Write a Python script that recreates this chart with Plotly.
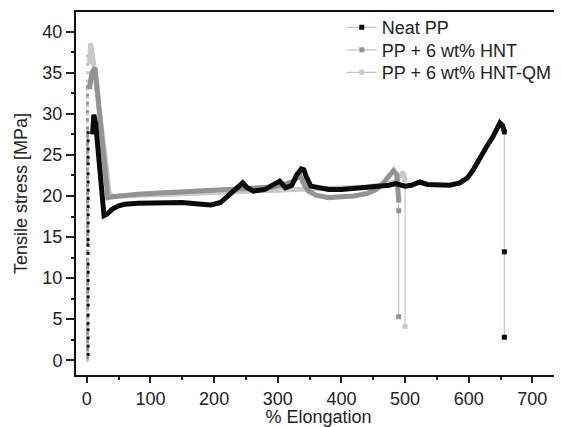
import plotly.graph_objects as go

# ---------------- data ----------------
series_names = ["Neat PP", "PP + 6 wt% HNT", "PP + 6 wt% HNT-QM"]

# initial elastic rise (sampled points)
neat_rise_x = [2, 2, 2, 2, 2, 2, 2, 2, 2, 2, 2, 2, 2, 2, 2, 2, 2, 2, 2, 2, 2, 2, 2, 2, 2, 2, 2, 2]
neat_rise_y = [0.7, 1.7, 2.7, 3.7, 4.5, 5.5, 6.7, 7.7, 8.7, 9.7, 10.7, 11.7, 13.0, 14.0, 14.7, 15.7, 16.7, 17.7,
               18.7, 19.7, 20.7, 21.7, 22.7, 23.9, 24.7, 25.7, 26.7, 27.7]
hnt_rise_x = [1, 1, 1, 1, 1, 1, 1, 1, 1, 1, 1, 1, 1, 1, 1, 1, 1, 1, 1, 1, 1, 1, 1, 1, 1, 1, 1, 1, 1, 1, 1, 1, 1, 1]
hnt_rise_y = [0.3, 1.3, 2.3, 3.3, 4.3, 5.3, 6.3, 7.3, 8.3, 9.3, 10.3, 11.3, 12.3, 13.3, 14.3, 15.3, 16.3, 17.3,
              18.3, 19.3, 20.3, 21.3, 22.3, 23.3, 24.3, 25.3, 26.3, 27.3, 28.3, 29.3, 30.3, 31.3, 32.3, 33.3]
qm_rise_x = [1, 1, 1, 1, 1, 1, 1, 1, 1, 1, 1, 1, 1, 1, 1, 1, 1, 1, 1, 1, 1, 1, 1, 1, 1, 1, 1, 1, 1, 1, 1, 1, 1, 1, 1, 1, 1, 1]
qm_rise_y = [0.0, 1.0, 2.0, 3.0, 4.0, 5.0, 6.0, 7.0, 8.0, 9.0, 10.0, 11.0, 12.0, 13.0, 14.0, 15.0, 16.0, 17.0,
             18.0, 19.0, 20.0, 21.0, 22.0, 23.0, 24.0, 25.0, 26.0, 27.0, 28.0, 29.0, 30.0, 31.0, 32.0, 33.0,
             34.0, 35.0, 36.0, 37.0]

# main plastic curves
neat_x = [9, 11, 14, 17, 20, 23, 27, 32, 40, 50, 60, 80, 100, 120, 150, 180, 195, 210, 223, 235, 245, 252,
          262, 280, 295, 303, 312, 322, 330, 337, 341, 345, 352, 365, 380, 400, 420, 440, 460, 475, 485, 492,
          500, 510, 523, 535, 550, 570, 586, 598, 608, 618, 628, 638, 645, 649, 653, 656]
neat_y = [27.5, 29.9, 28.8, 26.5, 23.5, 20.5, 17.6, 17.8, 18.4, 18.8, 19.0, 19.1, 19.1, 19.2, 19.2, 19.0, 18.9,
          19.2, 20.1, 20.8, 21.6, 21.0, 20.6, 20.8, 21.4, 21.8, 21.0, 21.3, 22.6, 23.3, 23.2, 22.3, 21.2, 21.0,
          20.8, 20.8, 20.9, 21.0, 21.2, 21.3, 21.5, 21.4, 21.2, 21.3, 21.7, 21.4, 21.3, 21.3, 21.6, 22.2, 23.3,
          24.8, 26.0, 27.2, 28.2, 28.9, 28.6, 27.8]

hnt_x = [4, 8, 13, 17, 21, 25, 29, 33, 40, 50, 60, 80, 100, 130, 160, 200, 230, 250, 270, 290, 310, 322,
         330, 335, 340, 348, 360, 380, 400, 420, 440, 455, 465, 475, 482, 487, 490]
hnt_y = [33.0, 35.0, 35.6, 32.5, 29.0, 25.5, 22.0, 19.8, 19.9, 20.0, 20.1, 20.2, 20.3, 20.4, 20.5, 20.6, 20.7,
         20.9, 21.0, 21.1, 21.4, 21.7, 22.2, 22.5, 21.6, 20.6, 20.1, 19.8, 19.9, 20.0, 20.3, 20.8, 21.5, 22.4,
         23.1, 22.6, 19.5]

qm_x = [4, 6, 10, 15, 20, 25, 30, 35, 40, 50, 60, 80, 100, 130, 160, 200, 230, 260, 290, 320, 350, 380, 410,
        440, 460, 475, 485, 492, 497, 500]
qm_y = [36.0, 38.6, 36.5, 33.0, 30.0, 27.0, 24.0, 20.4, 19.9, 20.0, 20.0, 20.1, 20.1, 20.2, 20.3, 20.4, 20.5,
        20.6, 20.6, 20.7, 20.8, 20.9, 21.0, 21.1, 21.3, 21.5, 21.8, 22.4, 22.9, 22.0]

# final fracture drops
neat_drop_x = [656, 656, 656]
neat_drop_y = [27.8, 13.2, 2.8]
hnt_drop_x = [490, 490, 490]
hnt_drop_y = [19.5, 18.2, 5.3]
qm_drop_x = [500, 500]
qm_drop_y = [22.0, 4.1]

x_ticks = [0, 100, 200, 300, 400, 500, 600, 700]
y_ticks = [0, 5, 10, 15, 20, 25, 30, 35, 40]

# ---------------- styles ----------------
col_neat = "#0a0a0a"
col_hnt = "#939393"
col_qm = "#c9c9c9"
col_drop_line = "#c4c4c4"

fig = go.Figure()

def add_series(name, col, rx, ry, mx, my, dx, dy, legend_id):
    fig.add_trace(go.Scatter(x=rx, y=ry, mode="markers", showlegend=False,
                             marker=dict(symbol="square", size=3, color=col), hoverinfo="skip"))
    fig.add_trace(go.Scatter(x=mx, y=my, mode="lines", showlegend=False,
                             line=dict(color=col, width=5)))
    fig.add_trace(go.Scatter(x=dx, y=dy, mode="lines+markers", name=name, legend=legend_id,
                             line=dict(color=col_drop_line, width=1.2),
                             marker=dict(symbol="square", size=5, color=col)))

add_series(series_names[2], col_qm, qm_rise_x, qm_rise_y, qm_x, qm_y, qm_drop_x, qm_drop_y, "legend3")
add_series(series_names[1], col_hnt, hnt_rise_x, hnt_rise_y, hnt_x, hnt_y, hnt_drop_x, hnt_drop_y, "legend2")
add_series(series_names[0], col_neat, neat_rise_x, neat_rise_y, neat_x, neat_y, neat_drop_x, neat_drop_y, "legend")

font_family = "Liberation Sans, Arial, sans-serif"

def leg(y):
    return dict(x=0.548, y=y, xanchor="left", yanchor="middle",
                font=dict(size=18, color="#222"), bgcolor="rgba(0,0,0,0)", itemwidth=30)

# page body has an 8px margin -> figure shifted; compensate in size/margins
fig.update_layout(
    width=554, height=419,
    margin=dict(l=68, r=1, t=4, b=52, autoexpand=False),
    paper_bgcolor="white", plot_bgcolor="white",
    font=dict(family=font_family, size=18, color="#222"),
    legend=leg(0.957), legend2=leg(0.895), legend3=leg(0.833),
    showlegend=True,
)

fig.update_xaxes(
    range=[-17, 745], tickvals=x_ticks, ticks="outside", ticklen=6, tickwidth=1.5,
    tickcolor="#222", showline=True, linecolor="#111", linewidth=2, mirror=True,
    showgrid=False, zeroline=False, automargin=False,
    minor=dict(dtick=50, ticks="outside", ticklen=3, tickcolor="#222", tickwidth=1.5),
    title=dict(text="% Elongation", font=dict(size=18), standoff=9),
)
fig.update_yaxes(
    range=[-1.8, 42.4], tickvals=y_ticks, ticks="outside", ticklen=8, tickwidth=1.5,
    tickcolor="#222", showline=True, linecolor="#111", linewidth=2, mirror=True,
    showgrid=False, zeroline=False, automargin=False,
    minor=dict(dtick=2.5, ticks="outside", ticklen=3, tickcolor="#222", tickwidth=1.5),
    title=dict(text="Tensile stress [MPa]", font=dict(size=18), standoff=10),
)

fig.write_html("out.html")
